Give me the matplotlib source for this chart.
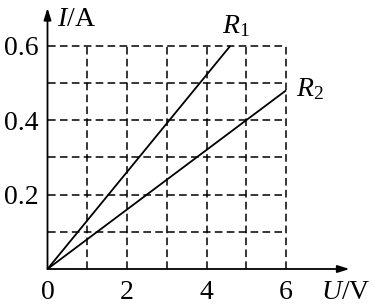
import matplotlib
matplotlib.use("Agg")
import matplotlib.pyplot as plt

plt.rcParams['mathtext.fontset'] = 'custom'
plt.rcParams['mathtext.rm'] = 'Liberation Serif'
plt.rcParams['mathtext.it'] = 'Liberation Serif:italic'
plt.rcParams['font.family'] = ['Liberation Serif', 'DejaVu Serif']

# data
x_ticks = [0, 2, 4, 6]
y_ticks = [0.2, 0.4, 0.6]
x_grid = [1, 2, 3, 4, 5, 6]
y_grid = [0.1, 0.2, 0.3, 0.4, 0.5, 0.6]
r1_u = [0, 4.6]
r1_i = [0, 0.6]
r2_u = [0, 6]
r2_i = [0, 0.48]

W, H = 372, 306
fig = plt.figure(figsize=(W / 100, H / 100), dpi=100)
ax = fig.add_axes([0, 0, 1, 1])
ox, sx = 47.5, 39.75   # pixel origin / per volt
oy, sy = 269.0, 372.0  # pixel origin / per amp
ax.set_xlim(-ox / sx, (W - ox) / sx)
ax.set_ylim(-(H - oy) / sy, oy / sy)
ax.axis('off')

dash = (0, (5, 2.8))
xmax = max(x_grid)
ymax = max(y_grid)
for xv in x_grid:
    ax.plot([xv, xv], [0, ymax], color='black', lw=1.1, linestyle=dash)
for yv in y_grid:
    ax.plot([0, xmax], [yv, yv], color='black', lw=1.1, linestyle=dash)

ax.plot(r1_u, r1_i, color='black', lw=1.3, solid_capstyle='butt')
ax.plot(r2_u, r2_i, color='black', lw=1.3, solid_capstyle='butt')

# axes with arrows
ax.annotate('', xy=((349.5 - ox) / sx, 0), xytext=(0, 0),
            arrowprops=dict(arrowstyle='-|>,head_length=0.7,head_width=0.22',
                            color='black', lw=1.3, shrinkA=0, shrinkB=0))
ax.annotate('', xy=(0, (oy - 8) / sy), xytext=(0, 0),
            arrowprops=dict(arrowstyle='-|>,head_length=0.7,head_width=0.22',
                            color='black', lw=1.3, shrinkA=0, shrinkB=0))

fs = 20
for yv in y_ticks:
    ax.text(-0.22, yv, f"{yv:.1f}", ha='right', va='center_baseline', fontsize=fs)
for xv in x_ticks:
    ax.text(xv, -0.055, f"{xv}", ha='center', va='center_baseline', fontsize=fs)

ax.text((57 - ox) / sx, (oy - 26) / sy, r'$I$/A', ha='left', va='baseline', fontsize=fs)
ax.text((321 - ox) / sx, (oy - 299) / sy, r'$U$/V', ha='left', va='baseline', fontsize=fs)
ax.text((222 - ox) / sx, (oy - 33) / sy, r'$R_1$', ha='left', va='baseline', fontsize=fs)
ax.text((296 - ox) / sx, (oy - 96) / sy, r'$R_2$', ha='left', va='baseline', fontsize=fs)

fig.savefig('out.png', dpi=100)
